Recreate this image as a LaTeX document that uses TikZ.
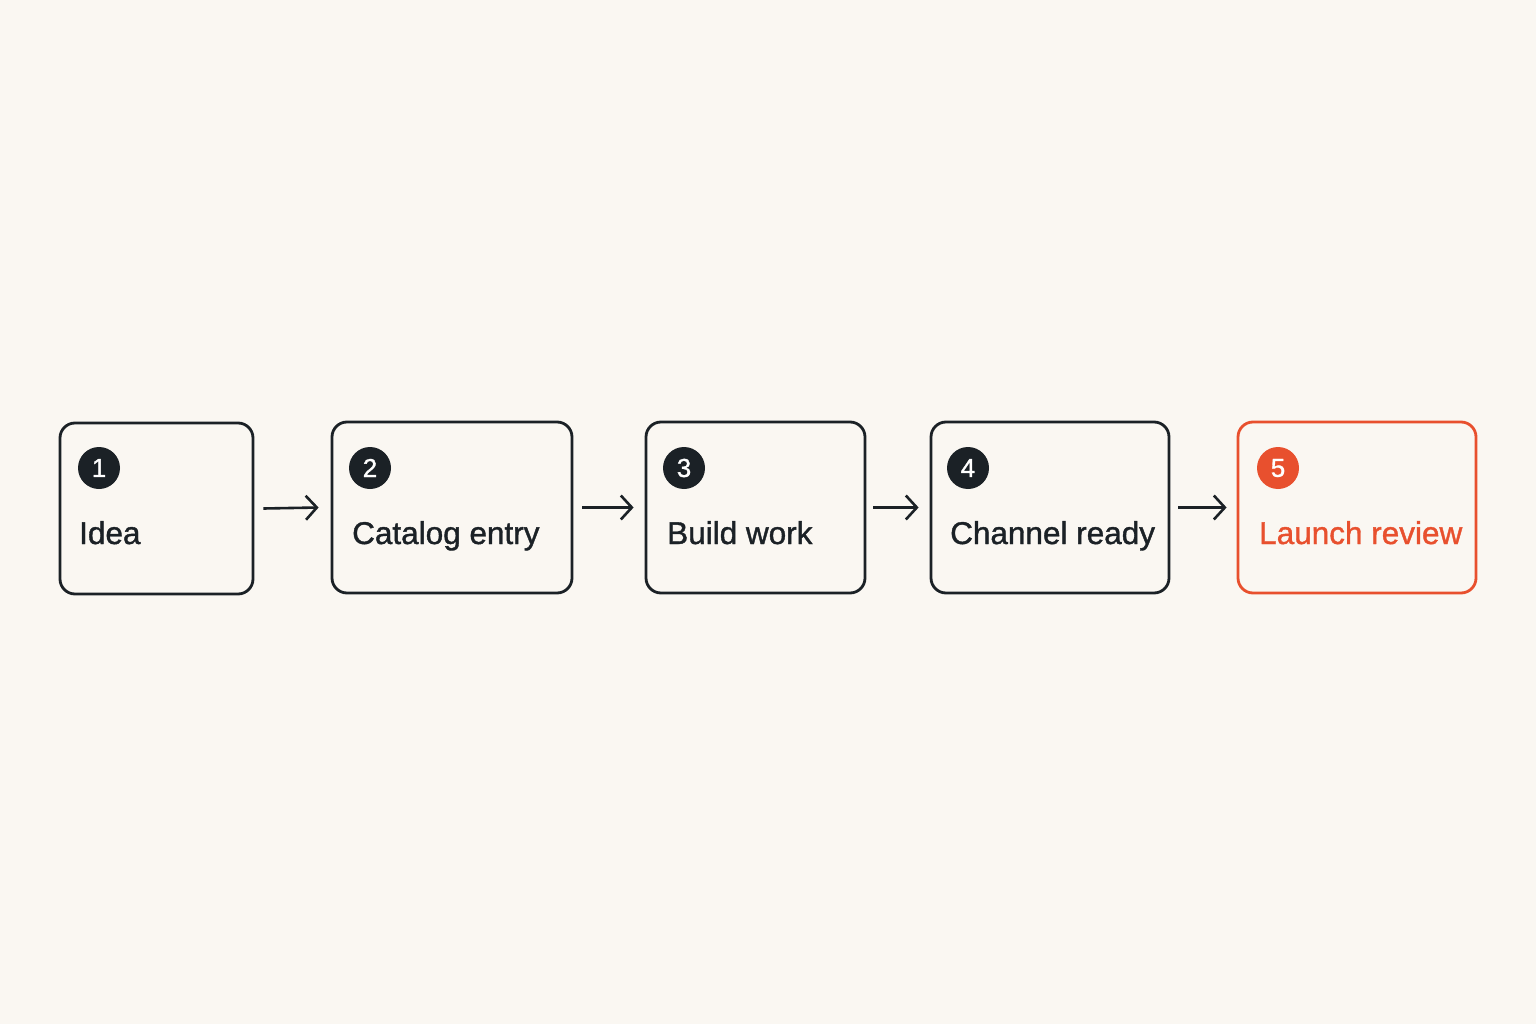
\documentclass[tikz,border=0pt]{standalone}
\usepackage{fontspec}
\setmainfont{Liberation Sans}
\newfontfamily\medfont[FakeBold=1.2]{Liberation Sans}
\usetikzlibrary{arrows.meta}
\definecolor{bg}{HTML}{FAF7F2}
\definecolor{ink}{HTML}{1B2126}
\definecolor{accent}{HTML}{E8502E}
\tikzset{
  stepbox/.style={draw=ink, line width=2.8pt, rounded corners=15pt, minimum height=171pt, inner sep=0pt},
  lastbox/.style={stepbox, draw=accent},
  badge/.style={circle, fill=ink, text=white, minimum size=42pt, inner sep=0pt, font=\medfont\fontsize{26}{30}\selectfont},
  lastbadge/.style={badge, fill=accent},
  label/.style={anchor=base west, text=ink, inner sep=0pt, font=\medfont\fontsize{31.5}{38}\selectfont},
  lastlabel/.style={label, text=accent},
  arr/.style={draw=ink, line width=2.6pt, -{Straight Barb[length=11pt,width=24pt,line width=2.6pt]}}
}
\begin{document}
\begin{tikzpicture}[x=1pt,y=-1pt]
\useasboundingbox (0,0) rectangle (1536,1024);
\fill[bg] (0,0) rectangle (1536,1024);

\node[stepbox, minimum width=193pt] (b1) at (156.5,508.5) {};
\node[stepbox, minimum width=240pt] (b2) at (452,507.5) {};
\node[stepbox, minimum width=219pt] (b3) at (755.5,507.5) {};
\node[stepbox, minimum width=238pt] (b4) at (1050,507.5) {};
\node[lastbox, minimum width=238pt] (b5) at (1357,507.5) {};

\node[badge] (c1) at (99,468) {1};
\node[badge] (c2) at (370,468) {2};
\node[badge] (c3) at (684,468) {3};
\node[badge] (c4) at (968,468) {4};
\node[lastbadge] (c5) at (1278,468) {5};

\node[label] (t1) at (79,544) {Idea};
\node[label] (t2) at (352,544) {Catalog entry};
\node[label] (t3) at (667,544) {Build work};
\node[label] (t4) at (950,544) {Channel ready};
\node[lastlabel] (t5) at (1259,544) {Launch review};

\draw[arr] ([xshift=9pt]b1.east) -- ([xshift=-12pt]b2.west);
\draw[arr] ([xshift=9pt]b2.east) -- ([xshift=-11pt]b3.west);
\draw[arr] ([xshift=7pt]b3.east) -- ([xshift=-11pt]b4.west);
\draw[arr] ([xshift=8pt]b4.east) -- ([xshift=-10pt]b5.west);
\end{tikzpicture}
\end{document}
